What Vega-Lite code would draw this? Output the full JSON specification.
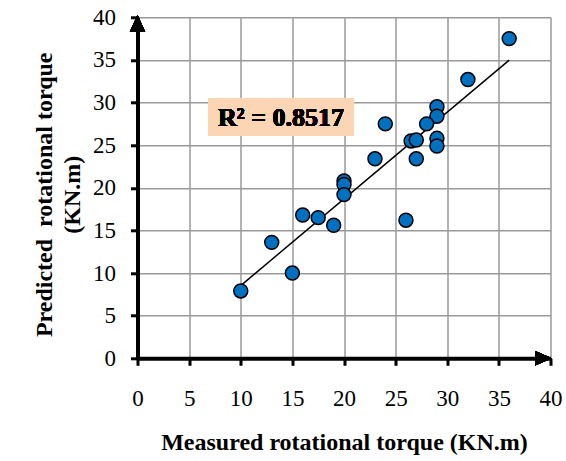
{
  "$schema": "https://vega.github.io/schema/vega-lite/v6.json",
  "width": 413,
  "height": 341,
  "autosize": {"type": "none"},
  "padding": {"left": 137.5, "top": 17.3, "right": 15.5, "bottom": 102.7},
  "background": "white",
  "config": {
    "view": {"stroke": null},
    "axis": {
      "labelFont": "Liberation Serif",
      "titleFont": "Liberation Serif",
      "labelColor": "black",
      "titleColor": "black"
    }
  },
  "data": {
    "values": [
      {"measured": 36, "predicted": 37.5},
      {"measured": 32, "predicted": 32.7},
      {"measured": 29, "predicted": 29.5},
      {"measured": 29, "predicted": 28.4},
      {"measured": 28, "predicted": 27.5},
      {"measured": 24, "predicted": 27.5},
      {"measured": 26.5, "predicted": 25.5},
      {"measured": 27, "predicted": 25.6},
      {"measured": 29, "predicted": 25.8},
      {"measured": 29, "predicted": 24.9},
      {"measured": 27, "predicted": 23.4},
      {"measured": 23, "predicted": 23.4},
      {"measured": 20, "predicted": 20.8},
      {"measured": 20, "predicted": 20.4},
      {"measured": 20, "predicted": 19.2},
      {"measured": 16, "predicted": 16.8},
      {"measured": 17.5, "predicted": 16.5},
      {"measured": 19, "predicted": 15.6},
      {"measured": 26, "predicted": 16.2},
      {"measured": 13, "predicted": 13.6},
      {"measured": 15, "predicted": 10.0},
      {"measured": 10, "predicted": 7.9}
    ]
  },
  "encoding": {
    "x": {
      "field": "measured",
      "type": "quantitative",
      "scale": {"domain": [0, 40], "nice": false, "zero": false},
      "axis": {
        "values": [0, 5, 10, 15, 20, 25, 30, 35, 40],
        "title": "Measured rotational torque (KN.m)",
        "titleFont": "Liberation Serif",
        "titleFontSize": 24,
        "titleFontWeight": "bold",
        "titleBaseline": "alphabetic",
        "titleX": 206.5,
        "titleY": 91.5,
        "labelFont": "Liberation Serif",
        "labelFontSize": 23,
        "labelBaseline": "alphabetic",
        "labelPadding": 40,
        "labelFlush": false,
        "labelOverlap": false,
        "domainColor": "black",
        "domainWidth": 4,
        "tickColor": "black",
        "tickWidth": 3,
        "tickSize": 7,
        "grid": true,
        "gridColor": "#9a9a9a",
        "gridWidth": 1.5
      }
    },
    "y": {
      "field": "predicted",
      "type": "quantitative",
      "scale": {"domain": [0, 40], "nice": false, "zero": false},
      "axis": {
        "values": [0, 5, 10, 15, 20, 25, 30, 35, 40],
        "title": ["Predicted\u00a0 rotational torque", "(KN.m)"],
        "titleFont": "Liberation Serif",
        "titleFontSize": 24,
        "titleFontWeight": "bold",
        "titleAngle": -90,
        "titleBaseline": "middle",
        "titleAlign": "center",
        "titleLineHeight": 28,
        "titleX": -93,
        "titleY": 177,
        "labelFont": "Liberation Serif",
        "labelFontSize": 23,
        "labelPadding": 15,
        "labelFlush": false,
        "labelOverlap": false,
        "domainColor": "black",
        "domainWidth": 4,
        "tickColor": "black",
        "tickWidth": 3,
        "tickSize": 7,
        "grid": true,
        "gridColor": "#9a9a9a",
        "gridWidth": 1.5
      }
    }
  },
  "layer": [
    {
      "mark": {"type": "rect", "color": "#FCD5B5"},
      "encoding": {
        "x": {"datum": 6.83},
        "x2": {"datum": 20.97},
        "y": {"datum": 30.5},
        "y2": {"datum": 26.1}
      }
    },
    {
      "mark": {"type": "text", "text": "R² = 0.8517", "font": "Liberation Serif", "fontSize": 26, "fontWeight": "bold", "color": "black", "align": "center", "baseline": "middle"},
      "encoding": {
        "x": {"datum": 13.9},
        "y": {"datum": 28.2}
      }
    },
    {
      "transform": [{"regression": "predicted", "on": "measured", "extent": [10, 36]}],
      "mark": {"type": "line", "color": "black", "strokeWidth": 1.5},
      "encoding": {}
    },
    {
      "mark": {"type": "point", "shape": "circle", "filled": true, "size": 195, "fill": "#0070C0", "stroke": "black", "strokeWidth": 1.5, "opacity": 1},
      "encoding": {}
    },
    {
      "mark": {"type": "point", "shape": "M0,-0.26L0.85,1.63L-0.85,1.63Z", "filled": true, "size": 324, "color": "black", "opacity": 1, "strokeWidth": 0},
      "encoding": {
        "x": {"datum": 0},
        "y": {"datum": 40}
      }
    },
    {
      "mark": {"type": "point", "shape": "M0.13,0L-1.72,-0.8L-1.72,0.8Z", "filled": true, "size": 324, "color": "black", "opacity": 1, "strokeWidth": 0},
      "encoding": {
        "x": {"datum": 40},
        "y": {"datum": 0}
      }
    }
  ]
}
